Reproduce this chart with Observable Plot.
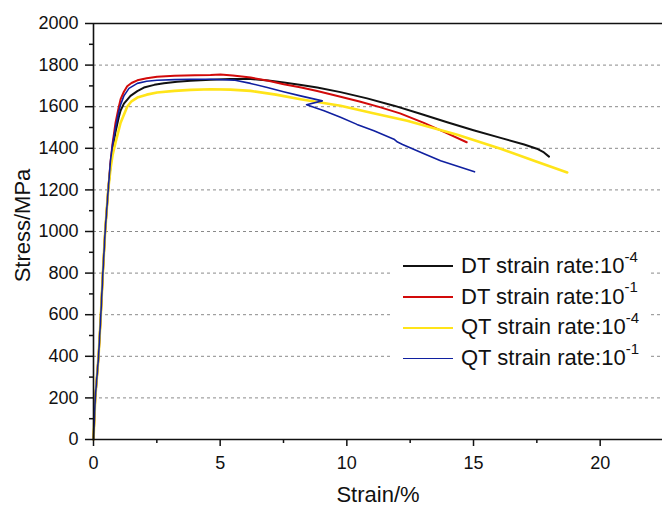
<!DOCTYPE html>
<html>
<head>
<meta charset="utf-8">
<script src="https://cdn.jsdelivr.net/npm/d3@7"></script>
<script src="https://cdn.jsdelivr.net/npm/@observablehq/plot@0.6"></script>
<style>
  html, body { margin: 0; padding: 0; background: #fff; }
  #wrap { position: relative; width: 662px; height: 505px; font-family: Arial, "Liberation Sans", sans-serif; }
  #legend { position: absolute; left: 393px; top: 248px; width: 256px; height: 124px; background: #fff; padding-top: 3px; box-sizing: border-box; }
  .row { height: 30.7px; line-height: 30.7px; font-size: 22px; color: #111; white-space: nowrap; display: flex; align-items: center; }
  .swatch { display: inline-block; width: 50px; margin-left: 10px; margin-right: 8px; }
  .row sup { font-size: 15px; position: relative; top: -3px; vertical-align: super; line-height: 0; }
</style>
</head>
<body>
<div id="wrap"></div>
<script>
// ---- data ----
const seriesNames = ["DT strain rate:10", "DT strain rate:10", "QT strain rate:10", "QT strain rate:10"];
const seriesExponents = ["-4", "-1", "-4", "-1"];

const dt4Strain = [0, 0.07, 0.2, 0.29, 0.37, 0.46, 0.58, 0.67, 0.75, 0.87, 1.0, 1.07, 1.2, 1.46, 1.73, 1.99, 2.4, 2.78, 3.3, 3.83, 4.62, 5.4, 6.2, 6.9, 7.51, 8.2, 8.83, 9.75, 10.8, 11.86, 12.9, 13.96, 15.0, 16.07, 17.0, 17.5, 17.78, 17.98];
const dt4Stress = [0, 200, 400, 600, 800, 1000, 1200, 1310, 1390, 1480, 1550, 1582, 1615, 1652, 1675, 1692, 1705, 1713, 1720, 1725, 1729, 1733, 1733, 1726, 1716, 1704, 1692, 1670, 1640, 1605, 1566, 1525, 1487, 1450, 1418, 1398, 1380, 1360];

const dt1Strain = [0, 0.07, 0.2, 0.29, 0.37, 0.46, 0.58, 0.67, 0.75, 0.87, 1.0, 1.07, 1.2, 1.33, 1.5, 1.73, 2.1, 2.51, 3.2, 4.0, 4.62, 5.01, 5.5, 6.2, 6.9, 7.51, 8.2, 8.83, 9.75, 10.5, 11.3, 12.1, 13.04, 13.9, 14.73];
const dt1Stress = [0, 200, 400, 600, 800, 1000, 1200, 1331, 1420, 1523, 1600, 1636, 1672, 1698, 1714, 1727, 1737, 1744, 1749, 1751, 1752, 1755, 1750, 1740, 1725, 1708, 1692, 1675, 1648, 1625, 1598, 1568, 1522, 1475, 1429];

const qt4Strain = [0, 0.07, 0.2, 0.29, 0.37, 0.46, 0.58, 0.67, 0.75, 0.87, 1.07, 1.33, 1.5, 1.73, 2.1, 2.51, 3.2, 3.83, 4.62, 5.4, 6.2, 7.2, 8.17, 8.96, 9.75, 11.0, 12.38, 14.36, 16.07, 17.5, 18.7];
const qt4Stress = [0, 200, 400, 600, 800, 1000, 1200, 1300, 1365, 1428, 1523, 1600, 1626, 1644, 1658, 1668, 1676, 1681, 1684, 1682, 1676, 1658, 1636, 1620, 1605, 1570, 1532, 1465, 1398, 1335, 1284];

const qt1Strain = [0, 0.07, 0.2, 0.29, 0.37, 0.46, 0.58, 0.67, 0.75, 0.87, 1.0, 1.07, 1.2, 1.4, 1.73, 2.1, 2.51, 3.2, 3.83, 4.62, 5.54, 6.2, 6.86, 7.5, 8.17, 8.6, 9.03, 8.41, 9.1, 9.75, 10.4, 11.07, 11.86, 12.0, 12.2, 13.0, 13.7, 15.04];
const qt1Stress = [0, 200, 400, 600, 800, 1000, 1200, 1340, 1415, 1500, 1578, 1610, 1652, 1688, 1712, 1722, 1727, 1730, 1732, 1732, 1728, 1712, 1692, 1672, 1652, 1640, 1628, 1609, 1580, 1549, 1515, 1484, 1444, 1430, 1418, 1376, 1340, 1287];

const xTicks = [0, 5, 10, 15, 20];
const xMinorTicks = [2.5, 7.5, 12.5, 17.5, 22.5];
const yTicks = [0, 200, 400, 600, 800, 1000, 1200, 1400, 1600, 1800, 2000];
const yMinorTicks = [100, 300, 500, 700, 900, 1100, 1300, 1500, 1700, 1900];
const gridValues = [200, 400, 600, 800, 1000, 1200, 1400, 1600, 1800];

// ---- styles ----
const colors = ["#111111", "#d20a0a", "#ffe419", "#1020a0"];
const widths = [2, 2, 2.6, 1.6];

const strains = [dt4Strain, dt1Strain, qt4Strain, qt1Strain];
const stresses = [dt4Stress, dt1Stress, qt4Stress, qt1Stress];
const tables = strains.map((s, i) => s.map((x, j) => ({strain: x, stress: stresses[i][j]})));

const font = 'Arial, "Liberation Sans", sans-serif';

const chart = Plot.plot({
  width: 662,
  height: 505,
  marginLeft: 93,
  marginTop: 23,
  marginBottom: 66,
  marginRight: 0,
  style: {fontFamily: font, color: "#111", background: "#fff", overflow: "visible"},
  x: {domain: [0, 22.46], label: null},
  y: {domain: [0, 2000], label: null},
  marks: [
    Plot.ruleY(gridValues, {stroke: "#8a8a8a", strokeWidth: 1, strokeDasharray: "3,3"}),
    ...tables.map((t, i) => Plot.line(t, {x: "strain", y: "stress", stroke: colors[i], strokeWidth: widths[i], curve: "linear"})),
    Plot.ruleY([0, 2000], {stroke: "#111", strokeWidth: 1.6}),
    Plot.ruleX([0], {stroke: "#111", strokeWidth: 1.6}),
    Plot.axisY({ticks: yTicks, tickSize: 8, tickPadding: 7, fontSize: 18, tickFormat: d3.format("d"), label: null, strokeWidth: 1.5}),
    Plot.axisY({ticks: yMinorTicks, tickSize: 4, tickFormat: () => "", label: null, strokeWidth: 1.5}),
    Plot.axisX({ticks: xTicks, tickSize: 7, tickPadding: 10, fontSize: 18, tickFormat: d3.format("d"), label: null, strokeWidth: 1.5}),
    Plot.axisX({ticks: xMinorTicks, tickSize: 4, tickFormat: () => "", label: null, strokeWidth: 1.5}),
    Plot.text(["Strain/%"], {frameAnchor: "bottom", dy: 55, fontSize: 22, lineAnchor: "middle", textAnchor: "middle"}),
    Plot.text(["Stress/MPa"], {frameAnchor: "left", dx: -71, dy: -6, rotate: -90, fontSize: 22, lineAnchor: "middle", textAnchor: "middle"})
  ]
});

const wrap = document.getElementById("wrap");
wrap.appendChild(chart);

const legend = document.createElement("div");
legend.id = "legend";
seriesNames.forEach((name, i) => {
  const row = document.createElement("div");
  row.className = "row";
  const sw = document.createElement("span");
  sw.className = "swatch";
  sw.style.borderTop = `${widths[i]}px solid ${colors[i]}`;
  row.appendChild(sw);
  const label = document.createElement("span");
  label.innerHTML = name + "<sup>" + seriesExponents[i] + "</sup>";
  row.appendChild(label);
  legend.appendChild(row);
});
wrap.appendChild(legend);
</script>
</body>
</html>
